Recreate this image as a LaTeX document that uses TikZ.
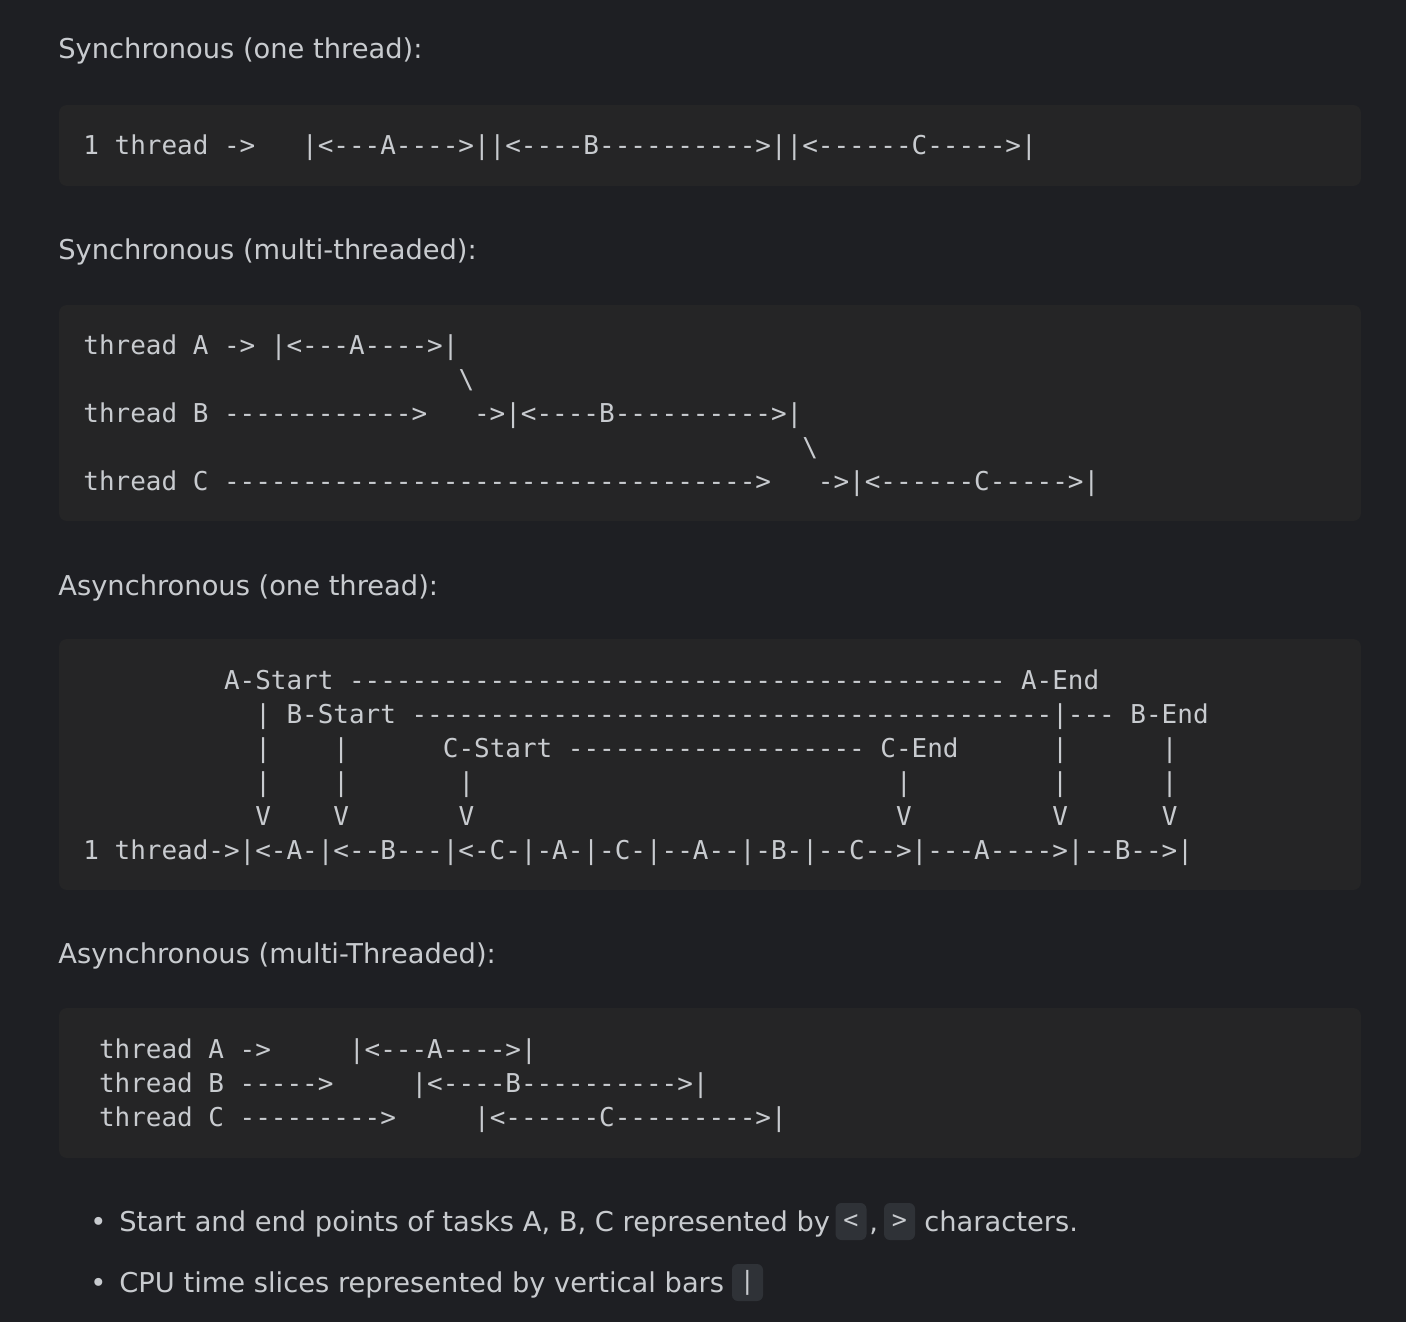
\documentclass[tikz,border=0pt]{standalone}
\usepackage{fontspec}
\setmainfont{DejaVu Sans}
\setmonofont{DejaVu Sans Mono}
\usepackage{tikz}
\definecolor{pagebg}{RGB}{30,31,35}
\definecolor{blockbg}{RGB}{37,37,38}
\definecolor{chipbg}{RGB}{47,50,55}
\definecolor{fg}{RGB}{200,203,207}
\ExplSyntaxOn
\NewExpandableDocumentCommand\rpt{mm}{\prg_replicate:nn{#1}{#2}}
\ExplSyntaxOff

\begin{document}
\begin{tikzpicture}[x=0.5pt, y=-0.5pt,
    head/.style={anchor=base west, inner sep=0pt, text=fg, font=\fontsize{13.65}{16}\selectfont},
    code/.style={anchor=base west, inner sep=0pt, text=fg, font=\ttfamily\fontsize{12.98}{15}\selectfont},
    block/.style={fill=blockbg, rounded corners=4pt},
    chip/.style={fill=chipbg, rounded corners=3pt, inner sep=0pt, minimum width=15.5pt, minimum height=18.5pt, text=fg, font=\ttfamily\fontsize{12.5}{14}\selectfont}]
    \fill[pagebg] (0,0) rectangle (1406,1322);

    % synchronous, one thread
    \node[head] at (58,59) (h1) {Synchronous (one thread):};
    \fill[block] (59,105) rectangle (1361,186);
    \node[code] at (83,155) (s1) {1~thread~->\rpt{3}{~}|<---A---->||<----B\rpt{10}{-}>||<\rpt{6}{-}C\rpt{5}{-}>|};

    % synchronous, multi-threaded
    \node[head] at (58,259) (h2) {Synchronous (multi-threaded):};
    \fill[block] (59,305) rectangle (1361,521);
    \node[code] at (83,354) (m1) {thread~A~->~|<---A---->|};
    \node[code] at (83,388) (m2) {\rpt{24}{~}\textbackslash};
    \node[code] at (83,422) (m3) {thread~B~\rpt{12}{-}>\rpt{3}{~}->|<----B\rpt{10}{-}>|};
    \node[code] at (83,456) (m4) {\rpt{46}{~}\textbackslash};
    \node[code] at (83,490) (m5) {thread~C~\rpt{34}{-}>\rpt{3}{~}->|<\rpt{6}{-}C\rpt{5}{-}>|};

    % asynchronous, one thread
    \node[head] at (58,595) (h3) {Asynchronous (one thread):};
    \fill[block] (59,639) rectangle (1361,890);
    \node[code] at (83,689) (a1) {\rpt{9}{~}A-Start~\rpt{42}{-}~A-End};
    \node[code] at (83,723) (a2) {\rpt{11}{~}|~B-Start~\rpt{41}{-}|---~B-End};
    \node[code] at (83,757) (a3) {\rpt{11}{~}|\rpt{4}{~}|\rpt{6}{~}C-Start~\rpt{19}{-}~C-End\rpt{6}{~}|\rpt{6}{~}|};
    \node[code] at (83,791) (a4) {\rpt{11}{~}|\rpt{4}{~}|\rpt{7}{~}|\rpt{27}{~}|\rpt{9}{~}|\rpt{6}{~}|};
    \node[code] at (83,825) (a5) {\rpt{11}{~}V\rpt{4}{~}V\rpt{7}{~}V\rpt{27}{~}V\rpt{9}{~}V\rpt{6}{~}V};
    \node[code] at (83,859) (a6) {1~thread->|<-A-|<--B---|<-C-|-A-|-C-|--A--|-B-|--C-->|---A---->|--B-->|};

    % asynchronous, multi-threaded
    \node[head] at (58,963) (h4) {Asynchronous (multi-Threaded):};
    \fill[block] (59,1008) rectangle (1361,1158);
    \node[code] at (83,1058) (t1) {~thread~A~->\rpt{5}{~}|<---A---->|};
    \node[code] at (83,1092) (t2) {~thread~B~\rpt{5}{-}>\rpt{5}{~}|<----B\rpt{10}{-}>|};
    \node[code] at (83,1126) (t3) {~thread~C~\rpt{9}{-}>\rpt{5}{~}|<\rpt{6}{-}C\rpt{9}{-}>|};

    % notes
    \node[head] at (90,1231) (d1) {•};
    \node[head] at (119,1231) (n1) {Start and end points of tasks A, B, C represented by};
    \node[chip] at (851,1221.5) (lt) {<};
    \node[head] at (869,1231) (cm) {,};
    \node[chip] at (899.5,1221.5) (gt) {>};
    \node[head] at (924,1231) (n1b) {characters.};
    \node[head] at (90,1292) (d2) {•};
    \node[head] at (119,1292) (n2) {CPU time slices represented by vertical bars};
    \node[chip] at (747.5,1282.5) (bar) {|};
\end{tikzpicture}
\end{document}
